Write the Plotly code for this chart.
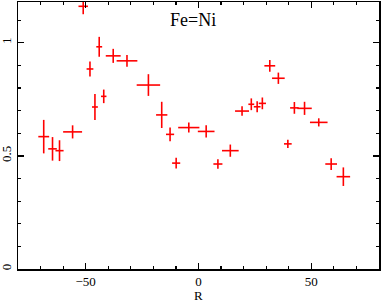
import plotly.graph_objects as go

# Data (R position, Fe=Ni ratio, half-widths of error bars)
r_vals = [-68.6, -64.7, -61.6, -55.8, -51.1, -48.1, -45.9, -44.0, -42.0, -37.8,
          -31.7, -22.2, -16.3, -12.6, -9.9, -4.3, 3.4, 8.6, 14.1, 19.3,
          23.4, 26.0, 28.3, 31.6, 35.4, 39.6, 42.5, 47.0, 53.3, 58.8, 64.2]
r_err = [2.4, 1.9, 1.8, 4.2, 2.1, 1.5, 1.3, 1.3, 1.2, 3.3,
         4.6, 5.2, 2.5, 1.8, 1.8, 4.7, 3.7, 2.0, 3.7, 3.1,
         1.3, 1.5, 1.6, 2.4, 2.8, 1.7, 1.9, 3.2, 3.9, 2.6, 3.0]
ratio = [0.585, 0.531, 0.523, 0.606, 1.161, 0.884, 0.716, 0.982, 0.763, 0.942,
         0.920, 0.813, 0.681, 0.595, 0.468, 0.625, 0.608, 0.464, 0.523, 0.698,
         0.728, 0.717, 0.732, 0.898, 0.843, 0.553, 0.712, 0.710, 0.648, 0.464, 0.408]
ratio_err = [0.074, 0.052, 0.046, 0.029, 0.035, 0.033, 0.057, 0.044, 0.030, 0.031,
             0.026, 0.048, 0.058, 0.030, 0.024, 0.022, 0.027, 0.021, 0.027, 0.021,
             0.026, 0.024, 0.026, 0.026, 0.025, 0.018, 0.026, 0.029, 0.018, 0.026, 0.041]

x_ticks = [-50, 0, 50]
y_ticks = [0, 0.5, 1]
title_text = "Fe=Ni"
x_title = "R"

RED = "#ff0000"
FONT = "Liberation Serif"

fig = go.Figure()
fig.add_trace(go.Scatter(
    x=r_vals, y=ratio, mode="markers",
    marker=dict(size=1, color=RED, opacity=0),
    error_x=dict(type="data", array=r_err, color=RED, thickness=1.6, width=0),
    error_y=dict(type="data", array=ratio_err, color=RED, thickness=1.6, width=0),
    showlegend=False, hoverinfo="skip",
))

axis_common = dict(
    showline=True, linecolor="black", linewidth=1.5, mirror="ticks",
    ticks="inside", ticklen=6, tickwidth=1.3, tickcolor="black",
    showgrid=False, zeroline=False, automargin=False,
    tickfont=dict(family=FONT, size=13, color="black"),
)

fig.update_xaxes(
    range=[-80, 80], tickvals=x_ticks,
    minor=dict(dtick=10, tick0=0, ticks="inside", ticklen=3, tickwidth=1.2, tickcolor="black", showgrid=False),
    **axis_common,
)
fig.update_yaxes(
    range=[0, 1.18], tickvals=y_ticks, tickangle=-90,
    minor=dict(dtick=0.1, tick0=0, ticks="inside", ticklen=3, tickwidth=1.2, tickcolor="black", showgrid=False),
    **axis_common,
)

fig.add_annotation(x=-2.4, y=1.10, xref="x", yref="y", text=title_text, showarrow=False,
                   font=dict(family=FONT, size=18, color="black"))
fig.add_annotation(x=0, y=-0.1, xref="x", yref="paper", text=x_title, showarrow=False,
                   yanchor="middle", font=dict(family=FONT, size=13, color="black"))

fig.update_layout(
    template="none",
    width=382, height=302,
    margin=dict(l=18, r=3, t=2, b=33, autoexpand=False),
    paper_bgcolor="white", plot_bgcolor="white",
    font=dict(family=FONT, color="black"),
)

fig.write_html("out.html", config={"displayModeBar": False, "staticPlot": True},
               post_script="document.body.style.margin='0';document.body.style.overflow='hidden';")
